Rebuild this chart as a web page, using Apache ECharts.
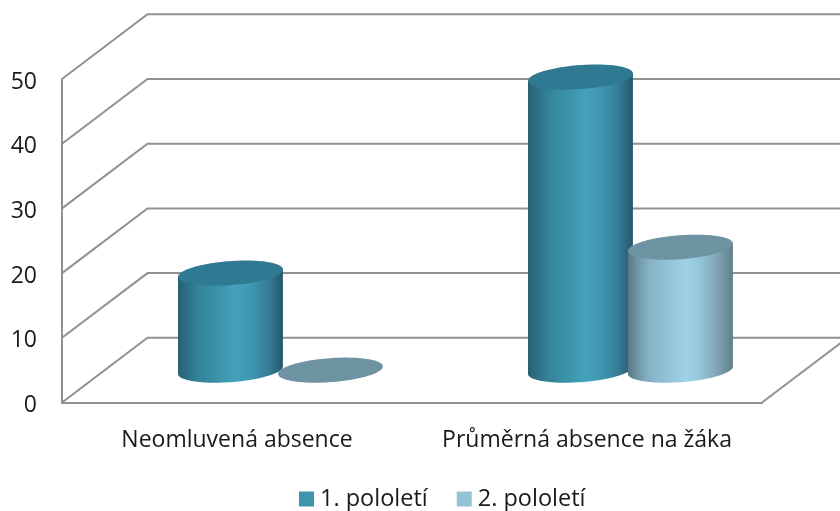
<!DOCTYPE html>
<html>
<head>
<meta charset="utf-8">
<style>html,body{margin:0;padding:0;background:#fff}#c{width:840px;height:511px}</style>
<script src="https://cdn.jsdelivr.net/npm/echarts@6/dist/echarts.min.js"></script>
</head>
<body>
<div id="c"></div>
<script>
const categories = ['Neomluvená absence', 'Průměrná absence na žáka'];
const seriesNames = ['1. pololetí', '2. pololetí'];
const firstTerm = [15, 45.3];
const secondTerm = [0, 19];
const wallTicks = [0, 10, 20, 30, 40, 50];

const FONT = '"Open Sans"';
const GRID_COLOR = '#919191';
const GRID_WIDTH = 2;
const DEPTH_X = 85.5;
const TILT = -4.25 * Math.PI / 180;

function ellipsePoint(cx, cy, a, b, t) {
  const x = a * Math.cos(t), y = b * Math.sin(t);
  return [cx + x * Math.cos(TILT) - y * Math.sin(TILT), cy + x * Math.sin(TILT) + y * Math.cos(TILT)];
}
function ellipse(cx, cy, a, b) {
  const pts = [];
  for (let i = 0; i < 120; i++) pts.push(ellipsePoint(cx, cy, a, b, i / 120 * 2 * Math.PI));
  return pts;
}
function gradient(stops) {
  return new echarts.graphic.LinearGradient(0, 0, 1, 0, stops.map(s => ({ offset: s[0], color: s[1] })));
}
const palettes = [
  { top: '#2f7a92', body: [[0, '#28606f'], [0.08, '#2c6f84'], [0.2, '#348497'], [0.35, '#3a91a8'], [0.55, '#44a1bd'], [0.7, '#3f96b1'], [0.85, '#357f9a'], [1, '#26586a']] },
  { top: '#6e94a4', body: [[0, '#587683'], [0.08, '#6d93a4'], [0.2, '#86b2c6'], [0.35, '#90c0d4'], [0.55, '#9fd2e7'], [0.7, '#93c3d6'], [0.85, '#7fa5b5'], [1, '#5e7f8a']] }
];

function cylinderRenderer(seriesIndex) {
  return function (params, api) {
    const band = api.size([1, 0])[0];
    const base = api.coord([api.value(0), 0]);
    const top = api.coord([api.value(0), api.value(1)]);
    const unit = api.size([0, 10])[1];
    const a = band * 0.1503, b = 12;
    const cx = base[0] + DEPTH_X / 2 + 0.7 + (seriesIndex === 0 ? -1 : 1) * band / 7;
    const baseY = base[1] - unit / 2;
    const topY = top[1] - unit / 2;
    const pal = palettes[seriesIndex];
    const children = [];
    if (api.value(1) > 0) {
      const t0 = Math.atan2(-b * Math.sin(TILT), a * Math.cos(TILT));
      const pts = [];
      for (let i = 0; i <= 60; i++) {
        pts.push(ellipsePoint(cx, baseY, a, b, t0 + i / 60 * Math.PI));
      }
      const rightTop = ellipsePoint(cx, topY, a, b, t0);
      const leftTop = ellipsePoint(cx, topY, a, b, t0 + Math.PI);
      const poly = [rightTop].concat(pts).concat([leftTop]);
      children.push({ type: 'polygon', shape: { points: poly }, style: { fill: gradient(pal.body) }, silent: true });
    }
    children.push({ type: 'polygon', shape: { points: ellipse(cx, topY, a, b) }, style: { fill: pal.top }, silent: true });
    return { type: 'group', children };
  };
}

function wallRenderer(params, api) {
  const v = api.value(0);
  const cs = params.coordSys;
  const y = api.coord([0, v])[1];
  const depthY = api.size([0, 10])[1];
  const x0 = cs.x, x1 = cs.x + DEPTH_X, x2 = cs.x + cs.width + DEPTH_X;
  const lineStyle = { stroke: GRID_COLOR, lineWidth: GRID_WIDTH, fill: null };
  const children = [
    { type: 'polyline', shape: { points: [[x0, y], [x1, y - depthY], [x2, y - depthY]] }, style: lineStyle, silent: true }
  ];
  if (v === 0) {
    children.push({ type: 'line', shape: { x1: cs.x + cs.width, y1: y, x2: x2, y2: y - depthY }, style: lineStyle, silent: true });
  }
  return { type: 'group', children };
}

const chart = echarts.init(document.getElementById('c'), null, { renderer: 'canvas' });
chart.setOption({
  animation: false,
  backgroundColor: '#fff',
  grid: { left: 62, top: 79, width: 700, height: 323.5 },
  legend: {
    data: seriesNames,
    left: 299,
    top: 487,
    padding: 0,
    itemWidth: 15,
    itemHeight: 15,
    itemGap: 29,
    icon: 'rect',
    selectedMode: false,
    textStyle: { fontFamily: FONT, fontSize: 23.5, color: '#1a1a1a', padding: [0, 0, 0, 1] }
  },
  xAxis: {
    type: 'category',
    data: categories,
    axisTick: { show: false },
    axisLine: { show: true, lineStyle: { color: GRID_COLOR, width: GRID_WIDTH } },
    axisLabel: { fontFamily: FONT, fontSize: 23, color: '#1a1a1a', margin: 23, interval: 0, padding: [3, 0, 0, 0] }
  },
  yAxis: {
    type: 'value',
    min: 0,
    max: 50,
    interval: 10,
    splitLine: { show: false },
    axisTick: { show: false },
    axisLine: { show: true, lineStyle: { color: GRID_COLOR, width: GRID_WIDTH } },
    axisLabel: {
      margin: 25,
      formatter: '{n|{value}}',
      rich: { n: { fontFamily: FONT, fontSize: 23, color: '#1a1a1a', padding: [6, 0, 0, 0] } }
    }
  },
  series: [
    {
      type: 'custom', name: 'walls', coordinateSystem: 'cartesian2d', clip: false, silent: true,
      encode: { y: 0 },
      data: wallTicks.map(v => [v]),
      renderItem: wallRenderer
    },
    {
      type: 'custom', name: seriesNames[0], coordinateSystem: 'cartesian2d', clip: false, silent: true,
      itemStyle: { color: '#3f94ad' },
      encode: { x: 0, y: 1 },
      data: firstTerm.map((v, i) => [i, v]),
      renderItem: cylinderRenderer(0)
    },
    {
      type: 'custom', name: seriesNames[1], coordinateSystem: 'cartesian2d', clip: false, silent: true,
      itemStyle: { color: '#93c4d6' },
      encode: { x: 0, y: 1 },
      data: secondTerm.map((v, i) => [i, v]),
      renderItem: cylinderRenderer(1)
    }
  ]
});
</script>
</body>
</html>
